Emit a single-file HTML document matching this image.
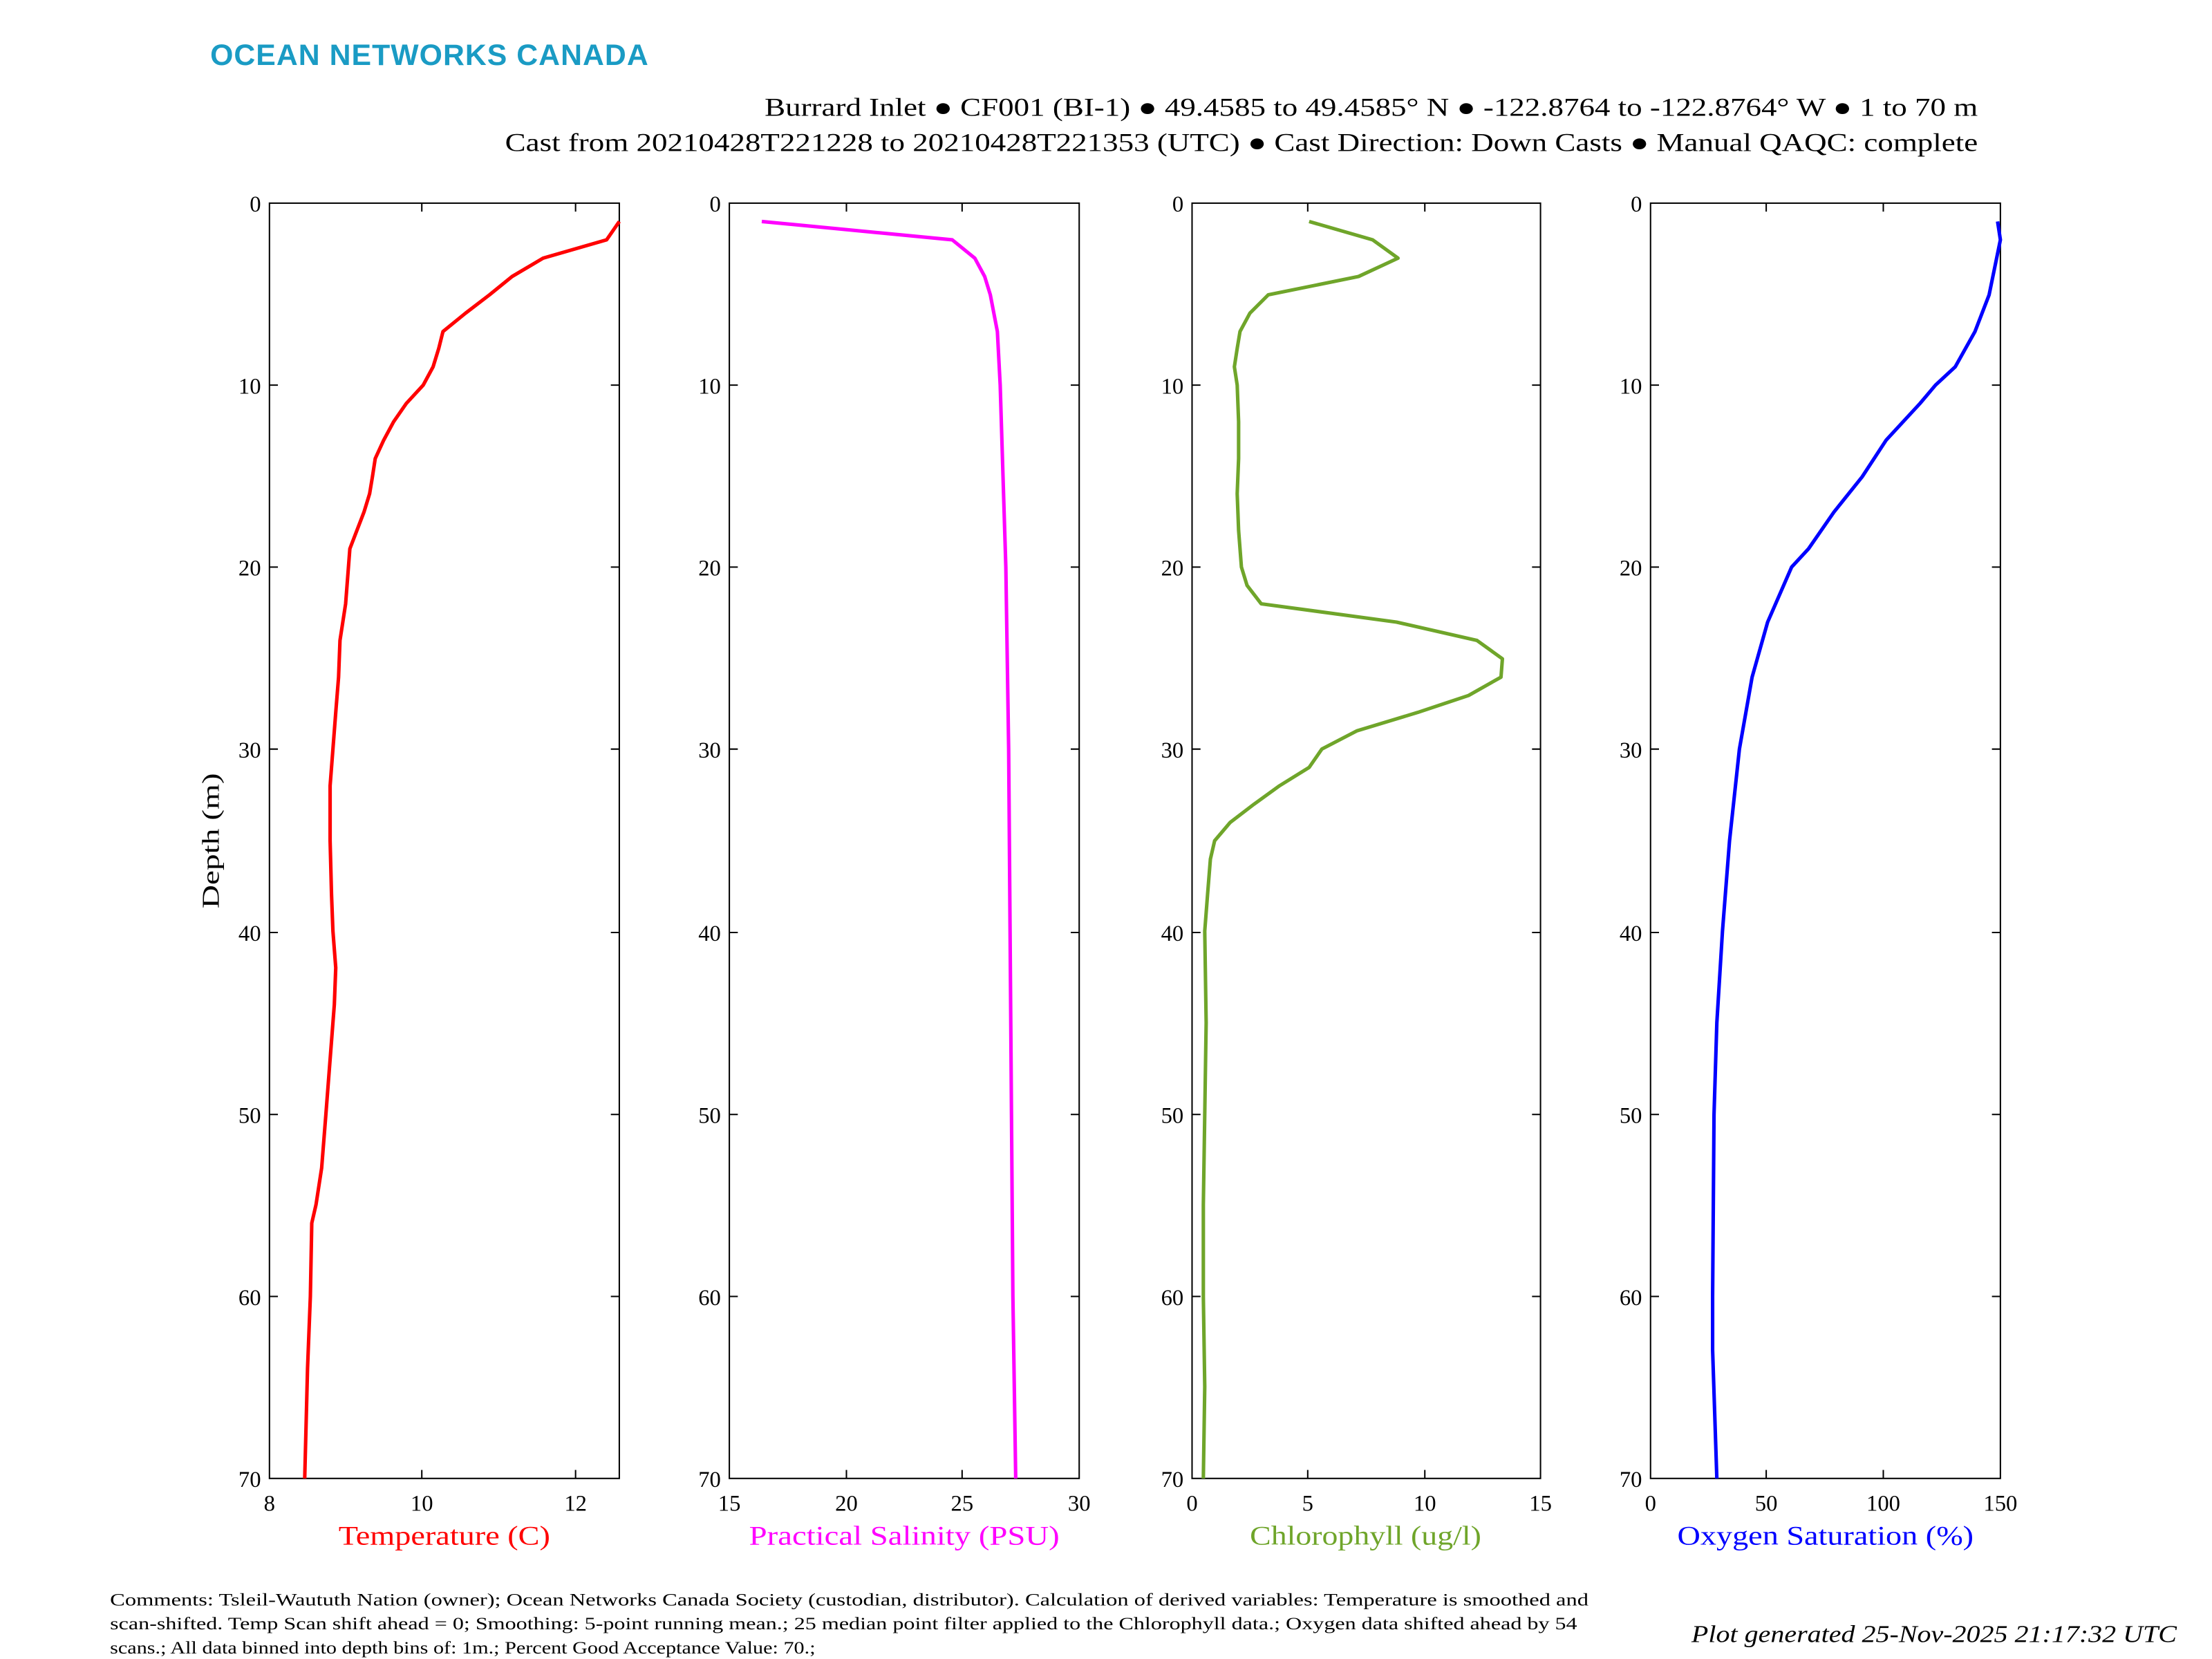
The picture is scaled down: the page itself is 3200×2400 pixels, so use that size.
<!DOCTYPE html>
<html><head><meta charset="utf-8"><style>
html,body{margin:0;padding:0;background:#fff;}
svg{display:block;}
text{font-family:"Liberation Serif",serif;fill:#000;}
</style></head><body>
<svg width="3200" height="2400" viewBox="0 0 1568 1176" xmlns="http://www.w3.org/2000/svg">
<rect width="1568" height="1176" fill="#fff"/>
<text x="149" y="46" style="font-family:'Liberation Sans',sans-serif;font-weight:bold;font-size:21px;fill:#1a9bc4;letter-spacing:0.5px" textLength="311" lengthAdjust="spacingAndGlyphs">OCEAN NETWORKS CANADA</text>
<text x="542" y="82" font-size="18" textLength="860" lengthAdjust="spacingAndGlyphs">Burrard Inlet ● CF001 (BI-1) ● 49.4585 to 49.4585° N ● -122.8764 to -122.8764° W ● 1 to 70 m</text>
<text x="358" y="107" font-size="18" textLength="1044" lengthAdjust="spacingAndGlyphs">Cast from 20210428T221228 to 20210428T221353 (UTC) ● Cast Direction: Down Casts ● Manual QAQC: complete</text>

<g id="axes" fill="none" stroke="#000" stroke-width="1">
<rect x="191" y="144" width="248" height="904"/>
<rect x="517" y="144" width="248" height="904"/>
<rect x="845" y="144" width="247" height="904"/>
<rect x="1170" y="144" width="248" height="904"/>
</g>
<g stroke="#000" stroke-width="1">
<path d="M191,273h6M191,402h6M191,531h6M191,661h6M191,790h6M191,919h6M439,273h-6M439,402h-6M439,531h-6M439,661h-6M439,790h-6M439,919h-6
M517,273h6M517,402h6M517,531h6M517,661h6M517,790h6M517,919h6M765,273h-6M765,402h-6M765,531h-6M765,661h-6M765,790h-6M765,919h-6
M845,273h6M845,402h6M845,531h6M845,661h6M845,790h6M845,919h6M1092,273h-6M1092,402h-6M1092,531h-6M1092,661h-6M1092,790h-6M1092,919h-6
M1170,273h6M1170,402h6M1170,531h6M1170,661h6M1170,790h6M1170,919h6M1418,273h-6M1418,402h-6M1418,531h-6M1418,661h-6M1418,790h-6M1418,919h-6
M299,1048v-6M299,144v6M408,1048v-6M408,144v6
M600,1048v-6M600,144v6M682,1048v-6M682,144v6
M927,1048v-6M927,144v6M1010,1048v-6M1010,144v6
M1252,1048v-6M1252,144v6M1335,1048v-6M1335,144v6"/>
</g>
<g font-size="16" text-anchor="end">
<text x="185" y="150">0</text><text x="185" y="279">10</text><text x="185" y="408">20</text><text x="185" y="537">30</text><text x="185" y="667">40</text><text x="185" y="796">50</text><text x="185" y="925">60</text><text x="185" y="1054">70</text>
<text x="511" y="150">0</text><text x="511" y="279">10</text><text x="511" y="408">20</text><text x="511" y="537">30</text><text x="511" y="667">40</text><text x="511" y="796">50</text><text x="511" y="925">60</text><text x="511" y="1054">70</text>
<text x="839" y="150">0</text><text x="839" y="279">10</text><text x="839" y="408">20</text><text x="839" y="537">30</text><text x="839" y="667">40</text><text x="839" y="796">50</text><text x="839" y="925">60</text><text x="839" y="1054">70</text>
<text x="1164" y="150">0</text><text x="1164" y="279">10</text><text x="1164" y="408">20</text><text x="1164" y="537">30</text><text x="1164" y="667">40</text><text x="1164" y="796">50</text><text x="1164" y="925">60</text><text x="1164" y="1054">70</text>
</g>
<g font-size="16" text-anchor="middle">
<text x="191" y="1071">8</text><text x="299" y="1071">10</text><text x="408" y="1071">12</text>
<text x="517" y="1071">15</text><text x="600" y="1071">20</text><text x="682" y="1071">25</text><text x="765" y="1071">30</text>
<text x="845" y="1071">0</text><text x="927" y="1071">5</text><text x="1010" y="1071">10</text><text x="1092" y="1071">15</text>
<text x="1170" y="1071">0</text><text x="1252" y="1071">50</text><text x="1335" y="1071">100</text><text x="1418" y="1071">150</text>
</g>
<g font-size="19">
<text x="240" y="1095" style="fill:#ff0000" textLength="150" lengthAdjust="spacingAndGlyphs">Temperature (C)</text>
<text x="531" y="1095" style="fill:#ff00ff" textLength="220" lengthAdjust="spacingAndGlyphs">Practical Salinity (PSU)</text>
<text x="886" y="1095" style="fill:#6fa52a" textLength="164" lengthAdjust="spacingAndGlyphs">Chlorophyll (ug/l)</text>
<text x="1189" y="1095" style="fill:#0000ff" textLength="210" lengthAdjust="spacingAndGlyphs">Oxygen Saturation (%)</text>
</g>
<text transform="translate(155,596) rotate(-90)" font-size="17" text-anchor="middle" textLength="96" lengthAdjust="spacingAndGlyphs">Depth (m)</text>

<g fill="none" stroke-width="2.5" stroke-linejoin="round">
<polyline stroke="#ff0000" points="439,157 430,170 385,183 363,196 347,209 330,222 314,235 311,247 307,260 300,273 288,286 279,299 272,312 266,325 264,338 262,350 258,363 253,376 248,389 247,402 246,415 245,428 243,441 241,454 240,480 238,505 236,531 234,557 234,596 235,634 236,660 238,686 237,712 235,738 233,764 231,790 228,828 224,854 221,867 220,919 218,970 217,1009 216,1048"/>
<polyline stroke="#ff00ff" points="540,157 675,170 691,183 698,196 702,209 707,235 709,273 711,338 713,402 715,531 716,660 717,790 718,919 720,1048"/>
<polyline stroke="#6fa52a" points="928,157 973,170 991,183 963,196 899,209 886,222 879,235 877,247 875,260 877,273 878,299 878,325 877,350 878,376 880,402 884,415 894,428 990,441 1047,454 1065,467 1064,480 1041,493 1005,505 962,518 937,531 928,544 907,557 889,570 872,583 861,596 858,609 856,634 854,660 855,725 854,790 853,854 853,919 854,983 853,1048"/>
<polyline stroke="#0000ff" points="1416,157 1418,170 1410,209 1400,235 1386,260 1372,273 1361,286 1337,312 1320,338 1300,363 1282,389 1270,402 1253,441 1242,480 1233,531 1226,596 1221,660 1217,725 1215,790 1214,919 1214,957 1217,1048"/>
</g>

<g font-size="12.5">
<text x="78" y="1138" textLength="1048" lengthAdjust="spacingAndGlyphs">Comments: Tsleil-Waututh Nation (owner); Ocean Networks Canada Society (custodian, distributor). Calculation of derived variables: Temperature is smoothed and</text>
<text x="78" y="1155" textLength="1040" lengthAdjust="spacingAndGlyphs">scan-shifted. Temp Scan shift ahead = 0; Smoothing: 5-point running mean.; 25 median point filter applied to the Chlorophyll data.; Oxygen data shifted ahead by 54</text>
<text x="78" y="1172" textLength="500" lengthAdjust="spacingAndGlyphs">scans.; All data binned into depth bins of: 1m.; Percent Good Acceptance Value: 70.;</text>
</g>
<text x="1199" y="1164" font-size="17" font-style="italic" textLength="344" lengthAdjust="spacingAndGlyphs">Plot generated 25-Nov-2025 21:17:32 UTC</text>
</svg>
</body></html>
